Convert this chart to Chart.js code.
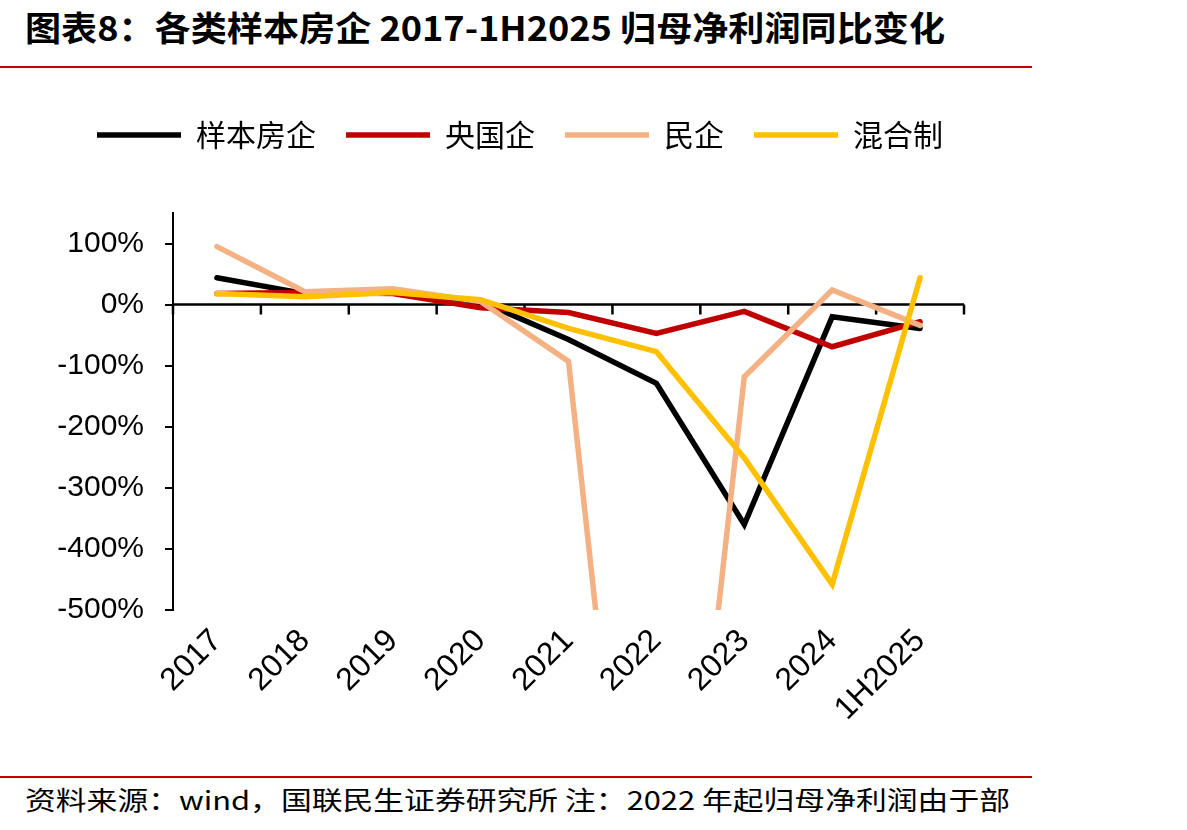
<!DOCTYPE html>
<html>
<head>
<meta charset="utf-8">
<script src="https://cdn.jsdelivr.net/npm/chart.js@4.4.0/dist/chart.umd.min.js"></script>
<style>
  body { margin: 0; background: #fff; width: 1187px; height: 830px; overflow: hidden; position: relative;
         font-family: "Noto Sans CJK SC", sans-serif; }
  #title { position: absolute; left: 25px; top: 2px; font-size: 34px; font-weight: bold; white-space: nowrap;
           transform-origin: 0 0; color: #000; }
  .rule { position: absolute; left: 0; width: 1032px; height: 2px; background: #c00000; }
  #src { position: absolute; left: 25px; top: 780px; font-size: 26px; white-space: nowrap; transform-origin: 0 0; }
  #wrap { position: absolute; left: 0; top: 80px; }
</style>
</head>
<body>
<div id="title">图表8：各类样本房企 2017-1H2025 归母净利润同比变化</div>
<div class="rule" style="top:66px"></div>
<div id="wrap"><canvas id="myChart" width="1040" height="690"></canvas></div>
<div class="rule" style="top:776px"></div>
<div id="src">资料来源：wind，国联民生证券研究所 注：2022 年起归母净利润由于部</div>

<script>
// x categories
var categories = ['2017', '2018', '2019', '2020', '2021', '2022', '2023', '2024', '1H2025']

// 归母净利润同比 (%)
var sampleAll = [44, 18, 20, 5, -57, -129, -360, -20, -39]        // 样本房企
var stateOwned = [18, 20, 18, -5, -13, -47, -11, -69, -28]        // 央国企
var privateOwned = [95, 21, 26, 5, -93, -1410, -118, 24, -34]     // 民企
var mixedOwned = [18, 13, 20, 8, -39, -77, -251, -458, 44]        // 混合制

var yTicks = [100, 0, -100, -200, -300, -400, -500]

function fitWidth(id, w) {
    var el = document.getElementById(id)
    var r = el.getBoundingClientRect()
    el.style.transform = 'scaleX(' + (w / r.width) + ')'
}
fitWidth('title', 920)
fitWidth('src', 985)

Chart.defaults.font.family = '"Liberation Sans", Arial, sans-serif'
Chart.defaults.color = '#000'

// x axis line sits at 0%, with ticks at category boundaries
var zeroAxis = {
    id: 'zeroAxis',
    beforeDatasetsDraw: function(chart) {
        var ctx = chart.ctx, area = chart.chartArea
        var x = chart.scales.x, y = chart.scales.y
        var y0 = y.getPixelForValue(0)
        var half = (x.getPixelForValue(1) - x.getPixelForValue(0)) / 2
        ctx.save()
        ctx.strokeStyle = '#000'
        ctx.lineWidth = 2.5
        ctx.beginPath()
        ctx.moveTo(area.left, y0)
        ctx.lineTo(area.right, y0)
        for (var i = 0; i <= categories.length; i++) {
            var px = x.getPixelForValue(i) - half
            ctx.moveTo(px, y0)
            ctx.lineTo(px, y0 + 10)
        }
        ctx.stroke()
        ctx.restore()
    }
}

var legendGap = {
    id: 'legendGap',
    beforeInit: function(chart) {
        var fit = chart.legend.fit
        chart.legend.fit = function() {
            fit.bind(chart.legend)()
            this.height += 53
        }
    }
}

function line(label, data, color, order) {
    return {
        label: label,
        data: data,
        borderColor: color,
        backgroundColor: color,
        borderWidth: 5.5,
        borderCapStyle: 'round',
        borderJoinStyle: 'miter',
        pointRadius: 0,
        tension: 0,
        order: order
    }
}

var ctx = document.getElementById('myChart')
var myChart = new Chart(ctx, {
    type: 'line',
    data: {
        labels: categories,
        datasets: [
            line('样本房企', sampleAll, '#000000', 3),
            line('央国企', stateOwned, '#c00000', 2),
            line('民企', privateOwned, '#f4b183', 1),
            line('混合制', mixedOwned, '#ffc000', 0)
        ]
    },
    options: {
        responsive: false,
        animation: false,
        layout: { padding: { top: 10, left: 0, right: 0, bottom: 0 } },
        plugins: {
            tooltip: { enabled: false },
            legend: {
                position: 'top',
                labels: {
                    usePointStyle: true,
                    pointStyle: 'line',
                    pointStyleWidth: 84,
                    padding: 30,
                    font: { family: '"Noto Sans CJK SC", sans-serif', size: 30 },
                    sort: function(a, b) { return a.datasetIndex - b.datasetIndex }
                }
            }
        },
        scales: {
            x: {
                offset: true,
                grid: { display: false, drawTicks: false },
                border: { display: false },
                ticks: { autoSkip: false, minRotation: 45, maxRotation: 45, padding: 12,
                         font: { size: 32 } },
                afterFit: function(scale) { scale.height = 160 }
            },
            y: {
                min: -500,
                max: 150,
                border: { display: true, color: '#000', width: 2 },
                grid: { drawOnChartArea: false, drawTicks: true, tickLength: 8, color: '#000', lineWidth: 2 },
                ticks: { stepSize: 100, padding: 21, font: { size: 30 },
                         callback: function(v) { return v + '%' } },
                afterBuildTicks: function(scale) {
                    scale.ticks = yTicks.slice().reverse().map(function(v) { return { value: v } })
                },
                afterFit: function(scale) { scale.width = 173 }
            },
            // empty right-hand box so the plot ends where the reference does
            yRight: {
                position: 'right',
                min: -500,
                max: 150,
                grid: { display: false, drawTicks: false },
                border: { display: false },
                ticks: { display: false },
                afterFit: function(scale) { scale.width = 76 }
            }
        }
    },
    plugins: [zeroAxis, legendGap]
})
</script>
</body>
</html>
